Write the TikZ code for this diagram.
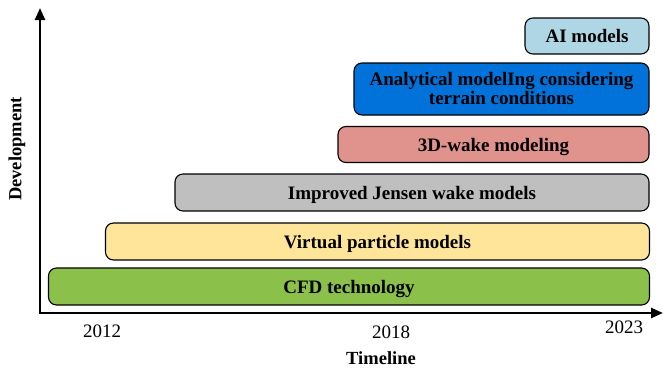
\documentclass[tikz,border=0pt]{standalone}
\usepackage{fontspec}
\setmainfont{Liberation Serif}
\usetikzlibrary{arrows.meta}
\definecolor{cfdgreen}{RGB}{139,193,74}
\definecolor{vpyellow}{RGB}{255,229,153}
\definecolor{ijgray}{RGB}{191,191,191}
\definecolor{wakered}{RGB}{224,147,140}
\definecolor{anblue}{RGB}{0,114,218}
\definecolor{ailblue}{RGB}{174,214,228}
\tikzset{
  stagebox/.style={draw=black, line width=1.1pt, rounded corners=8pt, inner sep=0pt,
    font=\fontsize{19}{19}\selectfont\bfseries, align=center, text height=13pt, text depth=0pt},
  yearlbl/.style={font=\fontsize{19}{20}\selectfont, inner sep=0pt},
  axislbl/.style={font=\fontsize{18.5}{20}\selectfont\bfseries, inner sep=0pt},
  axisline/.style={line width=2.4pt, -{Triangle[length=12pt,width=10pt]}}
}
\begin{document}
\begin{tikzpicture}[x=1pt,y=-1pt]
\useasboundingbox (0,0) rectangle (663,370);
\coordinate (O) at (40,313);
\coordinate (Ytop) at (40,8);
\coordinate (Xend) at (663,313);
\draw[axisline] ([yshift=-1.2pt]O) -- (Ytop);
\draw[axisline] ([xshift=-1.2pt]O) -- (Xend);

\node[stagebox, fill=cfdgreen, minimum width=601pt, minimum height=37pt] (cfd) at (349,286.5) {CFD technology};
\node[stagebox, fill=vpyellow, minimum width=544pt, minimum height=37pt] (vp) at (377.5,241.5) {Virtual particle models};
\node[stagebox, fill=ijgray, minimum width=474pt, minimum height=37pt] (ij) at (412,192.5) {Improved Jensen wake models};
\node[stagebox, fill=wakered, minimum width=311pt, minimum height=36pt] (wake) at (493.5,144.5) {3D-wake modeling};
\node[stagebox, fill=anblue, minimum width=295pt, minimum height=52pt, text height=31pt] (an) at (501.5,89) {Analytical modelIng considering\\terrain conditions};
\node[stagebox, fill=ailblue, minimum width=124pt, minimum height=36pt] (ai) at (587,36) {AI models};

\node[yearlbl] (y2012) at (102,331) {2012};
\node[yearlbl] (y2018) at (391,332) {2018};
\node[yearlbl] (y2023) at (624,327) {2023};
\node[axislbl] (tl) at (381,358) {Timeline};
\node[axislbl, rotate=90] (dev) at (17,149) {Development};
\end{tikzpicture}
\end{document}
